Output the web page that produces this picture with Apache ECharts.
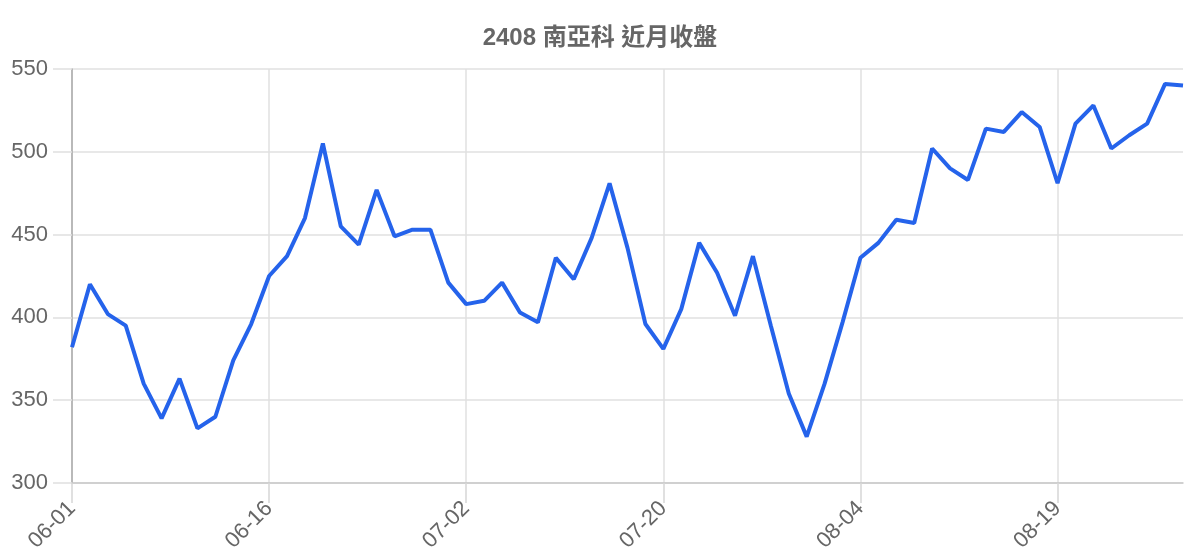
<!DOCTYPE html>
<html>
<head>
<meta charset="utf-8">
<script src="https://cdn.jsdelivr.net/npm/echarts@6/dist/echarts.min.js"></script>
<style>
html,body{margin:0;padding:0;background:#fff;}
#chart{width:1200px;height:560px;}
</style>
</head>
<body>
<div id="chart"></div>
<script>
const titleText = '2408 南亞科 近月收盤';
const dates = [
  '06-01','06-02','06-03','06-04','06-07','06-08','06-09','06-10','06-11','06-14','06-15','06-16',
  '06-17','06-18','06-21','06-22','06-23','06-24','06-25','06-28','06-29','06-30','07-02',
  '07-05','07-06','07-07','07-08','07-09','07-12','07-13','07-14','07-15','07-16','07-20',
  '07-21','07-22','07-23','07-26','07-27','07-28','07-29','07-30','08-02','08-03','08-04',
  '08-05','08-06','08-09','08-10','08-11','08-12','08-13','08-16','08-17','08-18','08-19',
  '08-20','08-23','08-24','08-25','08-26','08-27','08-30'
];
const closes = [
  382, 420, 402, 395, 360, 339, 363, 333, 340, 374, 396, 425,
  437, 460, 505, 455, 444, 477, 449, 453, 453, 421, 408,
  410, 421, 403, 397, 436, 423, 448, 481, 442, 396, 381,
  405, 445, 427, 401, 437, 395, 354, 328, 360, 397, 436,
  445, 459, 457, 502, 490, 483, 514, 512, 524, 515, 481,
  517, 528, 502, 510, 517, 541, 540
];
const yTicks = { min: 300, max: 550, step: 50 };

const chart = echarts.init(document.getElementById('chart'));
chart.setOption({
  animation: false,
  backgroundColor: '#fff',
  title: {
    text: titleText,
    left: 'center',
    top: 21,
    textStyle: { fontSize: 24, fontWeight: 'bold', color: '#666', fontFamily: 'Liberation Sans, Noto Sans CJK TC, sans-serif' }
  },
  grid: { left: 72, right: 17, top: 69, bottom: 77, containLabel: false },
  xAxis: {
    type: 'category',
    data: dates,
    boundaryGap: false,
    axisLine: { show: true, lineStyle: { color: '#c8c8c8', width: 1.5 } },
    axisTick: { show: true, interval: 10, length: 20, lineStyle: { color: '#d6d6d6', width: 1.5 } },
    splitLine: { show: true, interval: 10, lineStyle: { color: '#e0e0e0', width: 1.5 } },
    axisLabel: {
      interval: 10, rotate: 45, margin: 22,
      fontSize: 22, color: '#666', fontFamily: 'Liberation Sans, sans-serif'
    }
  },
  yAxis: {
    type: 'value',
    min: yTicks.min, max: yTicks.max, interval: yTicks.step,
    axisLine: { show: true, lineStyle: { color: '#aaa', width: 1.5 } },
    axisTick: { show: true, length: 19, lineStyle: { color: '#e0e0e0', width: 1.5 } },
    splitLine: { show: true, lineStyle: { color: '#e0e0e0', width: 1.5 } },
    axisLabel: { margin: 24, fontSize: 22, color: '#666', fontFamily: 'Liberation Sans, sans-serif' }
  },
  series: [{
    type: 'line',
    data: closes,
    showSymbol: false,
    symbol: 'none',
    lineStyle: { color: '#2563eb', width: 4 },
    itemStyle: { color: '#2563eb' }
  }]
});
</script>
</body>
</html>
